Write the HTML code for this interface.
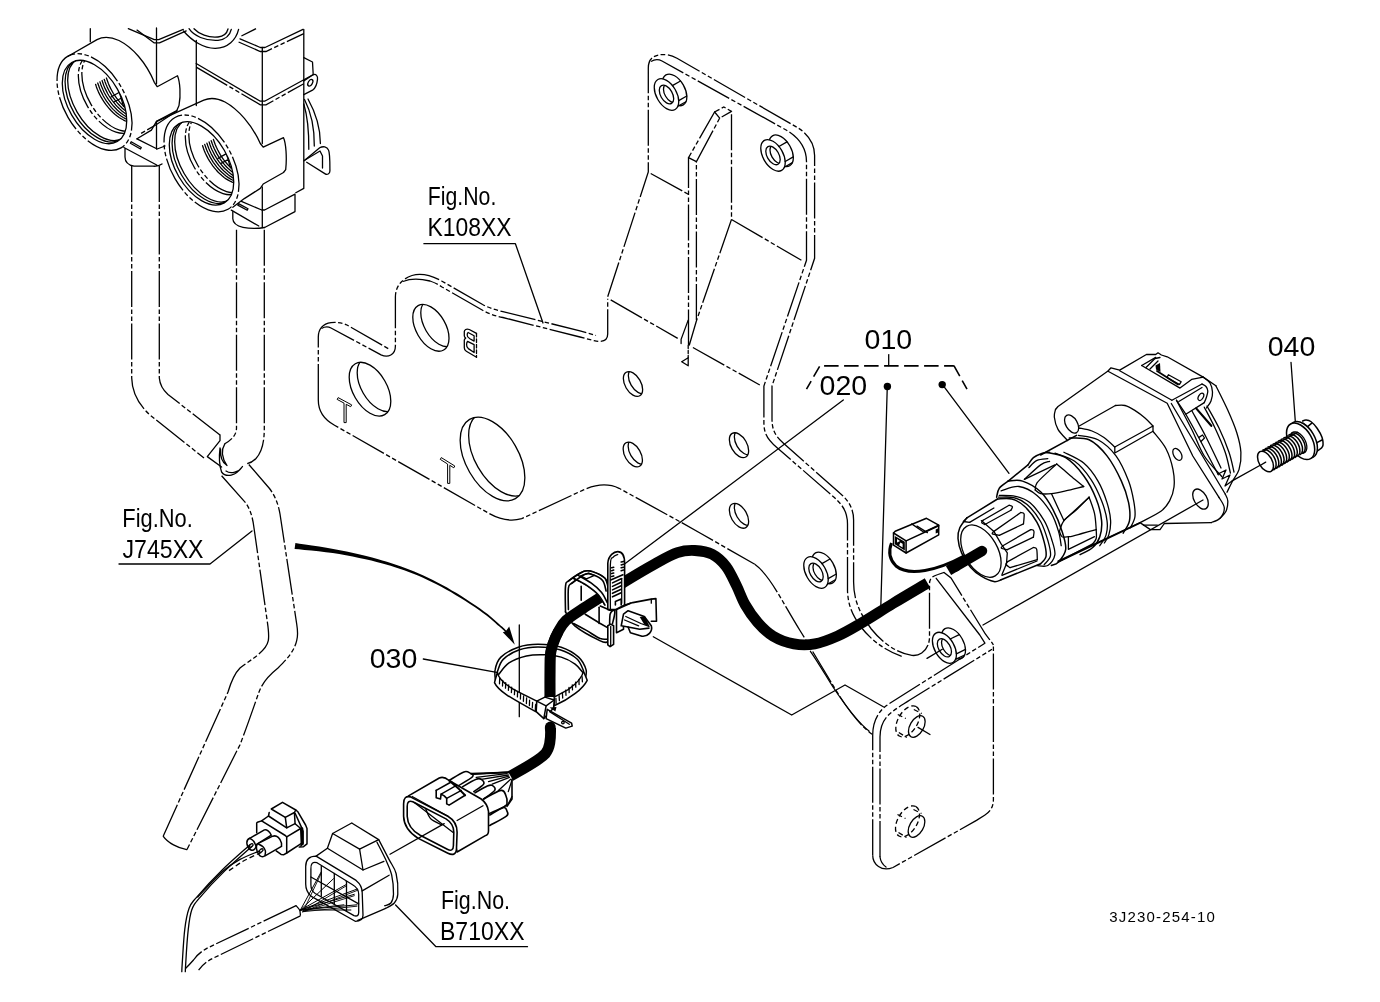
<!DOCTYPE html>
<html><head><meta charset="utf-8">
<style>
html,body{margin:0;padding:0;background:#fff;}
svg{display:block;}
.l{fill:none;stroke:#000;stroke-width:1.3;stroke-linecap:round;stroke-linejoin:round;}
.w{fill:#fff;stroke:#000;stroke-width:1.3;stroke-linejoin:round;}
.wf{fill:#fff;stroke:none;}
.p{fill:none;stroke:#000;stroke-width:1.3;stroke-dasharray:36 2.5 4.5 2.5 4.5 2.5;}
.wp{fill:#fff;stroke:#000;stroke-width:1.3;stroke-dasharray:36 2.5 4.5 2.5 4.5 2.5;}
.h{fill:none;stroke:#000;stroke-width:1.3;stroke-dasharray:5 3;}
.k{fill:none;stroke:#000;stroke-linecap:butt;stroke-linejoin:round;}
text{font-family:"Liberation Sans",sans-serif;fill:#000;}
</style></head><body>
<svg width="1380" height="1002" viewBox="0 0 1380 1002">
<rect width="1380" height="1002" fill="#fff"/>
<g id="bracket"><path class="p" d="M318.3 400V337C318.3 329 323 323.5 331 322.6C338 322 343 323 347 325L389 349" /><path class="p" d="M321.5 328.5C325 326.5 328 326.5 331 328L381 354.8C388 358 395.4 355 395.4 346V297C395.4 286 402 279 412 275.5C420 273 430 274.5 442 281.2L482.6 304.5C490 308.5 496 310 502.9 311.6L580 330.9L596 335.5" /><path class="p" d="M403 281.5C410 278.5 420 278.5 430 281C436 283 438 284.5 442 287L482.6 310.3C490 314.5 496 316 502.9 317.5L580 337L594 340.6C602 342.5 607.7 341 607.7 334V298.8" /><path class="p" d="M318.3 400C318.3 412 324 419.5 334.5 425.2L489.3 513.6C500 519.5 510 522 521.7 518.7L582.6 490.3C596 484 608 483 619.1 488.3L680 521.7L700 533L754.8 564.3" /><path class="p" d="M754.8 564.3C770 575 781 600 800.3 631C812 650 820 664 830.7 681.7C840 697 855 722 872.5 734.5" /><path class="l" d="M810.4 651.3C818 662 826 676 833 687C843 702 856 721 869 731" /><path class="p" d="M607.7 296.8L648.3 171.9V68C648.3 58 655 54 665 54.6C670 55 673 56 677 58.3L796.8 127.2C806 132.5 814.6 142 814.6 155.6V258.3L772 386V418.5C772 430 775 435.5 783.2 443L840 493.3C848 500 853.6 508 853.6 520V582C853.6 600 860 614 871.3 629C880 640 895 653 911.9 655.4C922 656.5 929.5 648 929.5 637V584C929.5 578 933 576 938 574.5" /><path class="p" d="M651 61.5C655 59 658 59 662 61L786.6 130.3C798 137 806.5 148 806.5 161.7V260.3L763.9 386V422.6C763.9 434 768 440 777.1 447.7L831.9 495.4C842 504 847.5 511 847.5 524V590.4C848 606 853 616 861 627C870 639 884 650 901.7 656.4" /><path class="p" d="M650.7 173.5L688.3 194.2"/><path class="p" d="M731.5 219.5L801.4 260.3"/><path class="p" d="M610.7 299.9L677.7 338.4"/><path class="p" d="M692.9 347.5L759.8 385.0"/><path class="p" d="M688.5 345.5V157.7L714.6 112L723.8 107L731.5 111.4V219.5L696.3 321.2L689.2 345.5" /><path class="p" d="M696.4 320V161.7L719.7 118.1L731.5 111.4" /><path class="l" d="M714.6 112L719.7 118.1M688.5 157.7L696.4 161.7M688.2 320.1L681.1 339.4V343.5M681.7 361.7L688.2 357.7V365.8Z" /><path class="l" d="M688.2 345.5V357.7" stroke-dasharray="3 2"/><clipPath id="c1"><ellipse cx="430.9" cy="327.8" rx="25.6" ry="14.8" transform="rotate(60 430.9 327.8)"/></clipPath><ellipse class="l" cx="430.9" cy="327.8" rx="25.6" ry="14.8" transform="rotate(60 430.9 327.8)" /><g clip-path="url(#c1)"><ellipse class="l" cx="438.9" cy="323.3" rx="25.6" ry="14.8" transform="rotate(60 438.9 323.3)" /></g><clipPath id="c2"><ellipse cx="370.0" cy="389.2" rx="29.4" ry="17.0" transform="rotate(60 370.0 389.2)"/></clipPath><ellipse class="l" cx="370.0" cy="389.2" rx="29.4" ry="17.0" transform="rotate(60 370.0 389.2)" /><g clip-path="url(#c2)"><ellipse class="l" cx="378.0" cy="384.7" rx="29.4" ry="17.0" transform="rotate(60 378.0 384.7)" /></g><clipPath id="c3"><ellipse cx="492.5" cy="459.0" rx="45.8" ry="26.4" transform="rotate(60 492.5 459.0)"/></clipPath><ellipse class="l" cx="492.5" cy="459.0" rx="45.8" ry="26.4" transform="rotate(60 492.5 459.0)" /><g clip-path="url(#c3)"><ellipse class="l" cx="501.0" cy="454.2" rx="45.8" ry="26.4" transform="rotate(60 501.0 454.2)" /></g><clipPath id="c4"><ellipse cx="633.0" cy="384.0" rx="13.6" ry="7.9" transform="rotate(60 633.0 384.0)"/></clipPath><ellipse class="l" cx="633.0" cy="384.0" rx="13.6" ry="7.9" transform="rotate(60 633.0 384.0)" /><g clip-path="url(#c4)"><ellipse class="l" cx="638.0" cy="381.2" rx="13.6" ry="7.9" transform="rotate(60 638.0 381.2)" /></g><clipPath id="c5"><ellipse cx="632.8" cy="454.5" rx="13.6" ry="7.9" transform="rotate(60 632.8 454.5)"/></clipPath><ellipse class="l" cx="632.8" cy="454.5" rx="13.6" ry="7.9" transform="rotate(60 632.8 454.5)" /><g clip-path="url(#c5)"><ellipse class="l" cx="637.8" cy="451.7" rx="13.6" ry="7.9" transform="rotate(60 637.8 451.7)" /></g><clipPath id="c6"><ellipse cx="739.0" cy="445.2" rx="13.6" ry="7.9" transform="rotate(60 739.0 445.2)"/></clipPath><ellipse class="l" cx="739.0" cy="445.2" rx="13.6" ry="7.9" transform="rotate(60 739.0 445.2)" /><g clip-path="url(#c6)"><ellipse class="l" cx="744.0" cy="442.4" rx="13.6" ry="7.9" transform="rotate(60 744.0 442.4)" /></g><clipPath id="c7"><ellipse cx="739.0" cy="515.8" rx="13.6" ry="7.9" transform="rotate(60 739.0 515.8)"/></clipPath><ellipse class="l" cx="739.0" cy="515.8" rx="13.6" ry="7.9" transform="rotate(60 739.0 515.8)" /><g clip-path="url(#c7)"><ellipse class="l" cx="744.0" cy="513.0" rx="13.6" ry="7.9" transform="rotate(60 744.0 513.0)" /></g><path class="l" d="M338.5 397.8L351.7 404.9L350.7 406.7L346.2 404.3V422.6H344V403.1L337.5 399.6Z" style="stroke-width:1"/><path class="l" d="M441.6 457.8L454.8 466L453.8 467.8L449.8 465.3V483.4H447.6V464L440.6 459.6Z" style="stroke-width:1"/><path class="l" d="M476.5 333.4L469.3 329.5C468 329 466.5 329 465.7 329.5C464.5 330.3 464.3 331 464.3 331.6V335.7C464.3 337 465 337.6 465.7 338.1C465 338.6 464.3 339.2 464.3 339.9V347.7C464.3 349.5 465 350.5 466.3 351.3L476.5 357.3" /><path class="l" d="M476.5 333.4V357.3" stroke-dasharray="3.5 2"/><path class="l" d="M468.1 332.5L474.1 335.7V341.1L469.9 338.7C468 337.5 467 336.5 467.2 335.1C467.2 333.5 467.5 332.8 468.1 332.5Z" /><path class="l" d="M467.5 341.4L474.1 344.7V352.5L468.7 348.9C467 347.5 466.4 346 466.6 344.7C466.6 343 467 342 467.5 341.4Z" /><ellipse class="l" cx="674.6" cy="89.9" rx="17.3" ry="10.0" transform="rotate(60 674.6 89.9)" /><ellipse class="w" cx="666.5" cy="94.5" rx="17.3" ry="10.0" transform="rotate(60 666.5 94.5)" /><path class="l" d="M672.4 85.6L680.5 81.0"/><path class="l" d="M678.7 100.6L686.8 96.0"/><path class="l" d="M677.8 106.3L685.9 101.7"/><clipPath id="c8"><ellipse cx="666.5" cy="94.5" rx="10.2" ry="5.9" transform="rotate(60 666.5 94.5)"/></clipPath><ellipse class="l" cx="666.5" cy="94.5" rx="10.2" ry="5.9" transform="rotate(60 666.5 94.5)" /><g clip-path="url(#c8)"><ellipse class="l" cx="670.7" cy="93.3" rx="10.2" ry="5.9" transform="rotate(60 670.7 93.3)" /></g><ellipse class="l" cx="781.1" cy="150.8" rx="17.3" ry="10.0" transform="rotate(60 781.1 150.8)" /><ellipse class="w" cx="773.0" cy="155.4" rx="17.3" ry="10.0" transform="rotate(60 773.0 155.4)" /><path class="l" d="M778.9 146.5L787.0 141.9"/><path class="l" d="M785.2 161.5L793.3 156.9"/><path class="l" d="M784.3 167.2L792.4 162.6"/><clipPath id="c9"><ellipse cx="773.0" cy="155.4" rx="10.2" ry="5.9" transform="rotate(60 773.0 155.4)"/></clipPath><ellipse class="l" cx="773.0" cy="155.4" rx="10.2" ry="5.9" transform="rotate(60 773.0 155.4)" /><g clip-path="url(#c9)"><ellipse class="l" cx="777.2" cy="154.2" rx="10.2" ry="5.9" transform="rotate(60 777.2 154.2)" /></g><ellipse class="l" cx="824.1" cy="567.9" rx="17.3" ry="10.0" transform="rotate(60 824.1 567.9)" /><ellipse class="w" cx="816.0" cy="572.5" rx="17.3" ry="10.0" transform="rotate(60 816.0 572.5)" /><path class="l" d="M821.9 563.6L830.0 559.0"/><path class="l" d="M828.2 578.6L836.3 574.0"/><path class="l" d="M827.3 584.3L835.4 579.7"/><clipPath id="c10"><ellipse cx="816.0" cy="572.5" rx="10.2" ry="5.9" transform="rotate(60 816.0 572.5)"/></clipPath><ellipse class="l" cx="816.0" cy="572.5" rx="10.2" ry="5.9" transform="rotate(60 816.0 572.5)" /><g clip-path="url(#c10)"><ellipse class="l" cx="820.2" cy="571.3" rx="10.2" ry="5.9" transform="rotate(60 820.2 571.3)" /></g></g>
<g id="lower"><path class="p" d="M872.7 855.2V735C872.7 722 878 711 888 704.5L984.9 643.2" /><path class="p" d="M880 857V737C880 726 884 718 892 712C897 708 903 704.5 909.8 700L992 649.3" /><path class="p" d="M872.7 855.2C872.7 860 875 864 878.5 866.5C882 869 888 869.5 893 867.5L976.5 820.4L985 815C990 812 993.4 807 993.4 799.6V645" /><path class="l" d="M880 857C880.5 861 882.5 864.5 886 867" /><path class="l" d="M936.2 578.3L979.8 635L984.9 643.2" /><path class="p" d="M938 574.5L944 572.5L951 578L982.9 630C986 636 990 639 993.4 645" /><ellipse class="l" cx="953.5" cy="643.4" rx="17.0" ry="9.8" transform="rotate(60 953.5 643.4)" /><ellipse class="w" cx="944.4" cy="647.8" rx="17.0" ry="9.8" transform="rotate(60 944.4 647.8)" /><path class="l" d="M950.2 639.0L959.3 634.6"/><path class="l" d="M956.4 653.8L965.5 649.4"/><path class="l" d="M955.5 659.4L964.6 655.0"/><clipPath id="c11"><ellipse cx="944.4" cy="647.8" rx="10.0" ry="5.8" transform="rotate(60 944.4 647.8)"/></clipPath><ellipse class="l" cx="944.4" cy="647.8" rx="10.0" ry="5.8" transform="rotate(60 944.4 647.8)" /><g clip-path="url(#c11)"><ellipse class="l" cx="948.6" cy="646.6" rx="10.0" ry="5.8" transform="rotate(60 948.6 646.6)" /></g><path class="l" d="M927.0 658.4L942.3 649.3"/><ellipse class="l" cx="916.8" cy="726.5" rx="11.8" ry="6.8" transform="rotate(-60 916.8 726.5)" /><ellipse class="h" cx="907.8" cy="721.3" rx="17.0" ry="9.8" transform="rotate(-60 907.8 721.3)" /><path class="h" d="M913.8 709.5L921.8 713.5M898.8 732.5L906.8 737.5M897.8 714.5L905.8 718.5" /><ellipse class="l" cx="916.5" cy="826.5" rx="11.8" ry="6.8" transform="rotate(-60 916.5 826.5)" /><ellipse class="h" cx="907.5" cy="821.3" rx="17.0" ry="9.8" transform="rotate(-60 907.5 821.3)" /><path class="h" d="M913.5 809.5L921.5 813.5M898.5 832.5L906.5 837.5M897.5 814.5L905.5 818.5" /><path class="l" d="M918.0 727.4L930.0 734.5"/><path class="l" d="M653.3 636.7L791.7 715L845 685L883.3 706.7" /><path class="l" d="M1203 500L983 625" /><path class="l" d="M1262 464.3L1232.2 480.9" /></g><g id="lead2"><path class="l" d="M888.7 354.6V365.7" /><path class="l" d="M824.1 365.9H953.9" stroke-dasharray="14.5 5.5" style="stroke-linecap:butt;stroke-width:1.6"/><path class="l" d="M819.6 366.3L806.5 389.1M953.9 365.7L967 389.1" stroke-dasharray="12 5" style="stroke-linecap:butt;stroke-width:1.6"/><circle cx="887.4" cy="386.5" r="3.7"/><circle cx="942.2" cy="384.6" r="3.7"/><path class="l" d="M887.3 386.0L880.8 607.0"/><path class="l" d="M942.3 384.3L1009.0 473.3"/><path class="l" d="M843.3 400.0L624.2 564.3"/><path class="l" d="M423.3 659.0L496.7 672.3"/><path class="l" d="M1291.0 362.3L1295.4 422.6"/><path class="l" d="M519.3 625.0L519.3 716.7"/><path fill="#000" stroke="none" d="M295.4 543.0L299.5 543.7L305.1 544.5L311.9 545.5L319.2 546.5L326.5 547.7L333.3 548.9L339.9 550.2L346.6 551.6L353.3 553.1L359.9 554.6L366.2 556.1L372.1 557.6L377.4 559.0L382.3 560.4L386.9 561.8L391.4 563.2L395.9 564.7L400.4 566.3L405.1 568.0L409.7 569.8L414.2 571.6L418.8 573.5L423.4 575.5L428.1 577.7L432.8 580.0L437.5 582.4L442.3 585.0L447.1 587.6L451.8 590.4L456.5 593.1L461.3 596.1L466.2 599.2L471.0 602.4L475.7 605.6L480.1 608.6L484.0 611.5L487.6 614.1L490.8 616.7L493.7 619.2L496.2 621.5L498.5 623.6L500.6 625.4L502.3 626.8L503.6 628.1L504.7 629.1L505.5 629.9L506.2 630.5L506.7 631.0L505.7 632.2L505.1 631.7L504.4 631.0L503.6 630.3L502.5 629.3L501.1 628.1L499.4 626.6L497.4 624.9L495.1 622.8L492.5 620.5L489.6 618.1L486.5 615.6L483.0 612.9L479.0 610.1L474.7 607.1L470.0 604.0L465.1 600.8L460.2 597.8L455.5 594.9L450.8 592.1L446.1 589.4L441.3 586.8L436.5 584.3L431.8 581.9L427.1 579.7L422.5 577.6L417.9 575.6L413.4 573.8L408.8 572.0L404.2 570.3L399.6 568.7L395.0 567.2L390.6 565.8L386.1 564.4L381.5 563.2L376.6 561.9L371.3 560.6L365.5 559.3L359.2 558.0L352.6 556.6L345.9 555.3L339.2 554.1L332.7 553.1L325.9 552.2L318.6 551.3L311.3 550.5L304.5 549.9L298.8 549.3L294.6 549.0Z"/><path fill="#000" stroke="none" d="M514.8 644.7L502.8 632.2L505.8 631.2L509.2 626.4Z"/></g>
<g id="valve"><path class="l" d="M90.3 28.7V41.7M156.5 28V83.8M156.5 121.4V149M196.3 40.3V105.5M262.3 47.5V143.5M262.3 187V227.5M303.8 29.4V188.4L295.8 192.8" /><path class="l" d="M128.3 28.7L154.3 39.6H158.7L183.3 29.4" /><path class="l" d="M137 30.1L154.3 42.9H159.5L186.2 30.9" /><path class="l" d="M189 28.7C194 36 205 41 218 40.3C226 39.5 230 35 231.3 29.4" /><path class="l" d="M183.5 31C192 41 204 48.5 215.4 48.3C228 48 236 40 238.6 29.4" /><path class="l" d="M194 28.7C199 34 208 38 218 37C224 36.3 227 33 228 29" /><path class="l" d="M240 38.8L260.3 47.5H265L303 29.4" /><path class="p" d="M238.6 42L260.3 51.5H266L303.8 33.6" /><path class="p" d="M241.4 36L256 28.7" /><path class="l" d="M196.2 63.5L260.3 101.2H264.6L312.5 75" /><path class="p" d="M196.2 67.1L260.3 104.8H266L303.8 83.8" /><path class="l" d="M303.8 57.7L312.5 62L313.2 74.5" /><path class="l" d="M303.8 80.9L313 74.8C316 73.5 318 76 317.5 79.4C317 84 316 87.5 313 89.8L303.8 94.6" /><ellipse class="l" cx="310.3" cy="82.8" rx="3.6" ry="2.1" transform="rotate(-60 310.3 82.8)" /><path class="l" d="M308 99C313 108 320.4 124 320.4 143.5" /><path class="l" d="M303.8 104C308 118 309 130 308.8 149.3" /><path class="l" d="M304.5 99.5C311 112 314.5 126 314.3 146" /><path class="l" d="M303.8 160.9L319.7 147.8C323 146 327 146.5 328.5 150C330 153 329.9 158 329.9 171C329.9 174 327 175 325.2 173.9L306.7 162.3" /><path class="l" d="M305 160L320 151L322.5 156V168" /><path class="l" d="M68.1 56.3L97 39.6C103 36.5 110 36.5 119 40.5C132 47 146 62 154.3 82.3L157.2 86.7L177.5 75.8C180 82 181 95 179 105.5L176.8 110.6L156.5 121.4L151.4 130.1L137 138.8" /><path class="l" d="M123.9 147.5L156.7 165M125 149V157C125 162 128 165 134 166.2H153C157 166.5 160 165.5 162 164M137 138.8L157.2 149L165 146" /><path class="l" d="M131.2 141.7L141.3 147.5L140.5 149L130.4 143.2Z" /><path class="l" d="M156.7 121.4L203.8 100.2C210 97.5 217 98 225 102C238 109 252 125 260.3 143.5L263.2 147.1L283.5 137.7C286 143 287 158 285.7 169.6L283.5 172.5L263.2 184L260.3 188.4L244.3 198.6L232.8 207.2" /><path class="p" d="M177.5 110.5L156.5 124.5L140 134" /><path class="l" d="M241.4 201.4L261.7 210H264.6L295 194.2V211.6L264.6 227.5" /><path class="l" d="M232.8 211.6V218.8C233 223 237 226 243 227.3C250 228.8 258 228.6 264.6 227.5" /><path class="l" d="M231.3 210.1L258.8 226" /><path class="l" d="M238.6 203.6L248 208.7L247.2 210.2L237.8 205.1Z" /><clipPath id="pc1"><ellipse cx="94.5" cy="102" rx="45.6" ry="26.33" transform="rotate(60 94.5 102)"/></clipPath><ellipse class="p" cx="94.5" cy="102.0" rx="53.0" ry="30.6" transform="rotate(60 94.5 102.0)" /><ellipse class="l" cx="94.5" cy="102.0" rx="45.6" ry="26.3" transform="rotate(60 94.5 102.0)" /><g clip-path="url(#pc1)"><ellipse class="l" cx="97.3" cy="100.4" rx="45.6" ry="26.3" transform="rotate(60 97.3 100.4)" /><ellipse class="l" cx="99.9" cy="98.9" rx="45.6" ry="26.3" transform="rotate(60 99.9 98.9)" /><ellipse class="p" cx="109.2" cy="93.5" rx="43.6" ry="25.2" transform="rotate(60 109.2 93.5)" /><ellipse class="p" cx="112.7" cy="91.5" rx="43.6" ry="25.2" transform="rotate(60 112.7 91.5)" /><path class="l" d="M136.6 122.4L134.9 122.6L133.0 122.6L131.2 122.4L129.2 122.1L127.2 121.5L125.2 120.8L123.2 119.8L121.2 118.7L119.1 117.5L117.1 116.0L115.1 114.4L113.2 112.7L111.2 110.8L109.4 108.8L107.6 106.7L105.8 104.4L104.2 102.1L102.6 99.7L101.1 97.2L99.8 94.7L98.5 92.1L97.4 89.5L96.4 86.9L95.6 84.3" /><path class="l" d="M138.8 121.2L137.0 121.4L135.2 121.4L133.3 121.2L131.4 120.8L129.4 120.3L127.4 119.5L125.4 118.6L123.3 117.5L121.3 116.2L119.3 114.8L117.3 113.2L115.3 111.4L113.4 109.6L111.5 107.6L109.7 105.4L108.0 103.2L106.3 100.9L104.8 98.5L103.3 96.0L102.0 93.4L100.7 90.9L99.6 88.3L98.6 85.6L97.7 83.0" /><path class="l" d="M140.9 119.9L139.2 120.1L137.4 120.1L135.5 119.9L133.6 119.6L131.6 119.0L129.6 118.3L127.5 117.3L125.5 116.2L123.5 115.0L121.5 113.5L119.5 111.9L117.5 110.2L115.6 108.3L113.7 106.3L111.9 104.2L110.2 101.9L108.5 99.6L106.9 97.2L105.5 94.7L104.1 92.2L102.9 89.6L101.8 87.0L100.8 84.4L99.9 81.8" /><path class="l" d="M143.1 118.7L141.3 118.9L139.5 118.9L137.6 118.7L135.7 118.3L133.7 117.8L131.7 117.0L129.7 116.1L127.7 115.0L125.6 113.7L123.6 112.3L121.6 110.7L119.7 108.9L117.7 107.1L115.9 105.1L114.1 102.9L112.3 100.7L110.7 98.4L109.1 96.0L107.6 93.5L106.3 90.9L105.0 88.4L103.9 85.8L102.9 83.1L102.1 80.5" /><path class="l" d="M145.3 117.4L143.5 117.6L141.7 117.6L139.8 117.4L137.9 117.1L135.9 116.5L133.9 115.8L131.9 114.8L129.8 113.7L127.8 112.5L125.8 111.0L123.8 109.4L121.8 107.7L119.9 105.8L118.0 103.8L116.2 101.7L114.5 99.4L112.8 97.1L111.3 94.7L109.8 92.2L108.5 89.7L107.2 87.1L106.1 84.5L105.1 81.9L104.2 79.3" /><path class="l" d="M147.4 116.2L145.7 116.4L143.9 116.4L142.0 116.2L140.0 115.8L138.1 115.3L136.1 114.5L134.0 113.6L132.0 112.5L130.0 111.2L128.0 109.8L126.0 108.2L124.0 106.4L122.1 104.6L120.2 102.6L118.4 100.4L116.6 98.2L115.0 95.9L113.4 93.5L112.0 91.0L110.6 88.4L109.4 85.9L108.3 83.3L107.3 80.6L106.4 78.0" /><path class="l" d="M111.0 97.0l8 -4.5M114.0 102.0l8.5 -4.5M119.5 92.5l4 14" /></g><clipPath id="pc2"><ellipse cx="201.5" cy="163.4" rx="45.6" ry="26.33" transform="rotate(60 201.5 163.4)"/></clipPath><ellipse class="p" cx="201.5" cy="163.4" rx="53.0" ry="30.6" transform="rotate(60 201.5 163.4)" /><ellipse class="l" cx="201.5" cy="163.4" rx="45.6" ry="26.3" transform="rotate(60 201.5 163.4)" /><g clip-path="url(#pc2)"><ellipse class="l" cx="204.3" cy="161.8" rx="45.6" ry="26.3" transform="rotate(60 204.3 161.8)" /><ellipse class="l" cx="206.9" cy="160.3" rx="45.6" ry="26.3" transform="rotate(60 206.9 160.3)" /><ellipse class="p" cx="216.2" cy="154.9" rx="43.6" ry="25.2" transform="rotate(60 216.2 154.9)" /><ellipse class="p" cx="219.7" cy="152.9" rx="43.6" ry="25.2" transform="rotate(60 219.7 152.9)" /><path class="l" d="M243.6 183.8L241.9 184.0L240.0 184.0L238.2 183.8L236.2 183.5L234.2 182.9L232.2 182.2L230.2 181.2L228.2 180.1L226.1 178.9L224.1 177.4L222.1 175.8L220.2 174.1L218.2 172.2L216.4 170.2L214.6 168.1L212.8 165.8L211.2 163.5L209.6 161.1L208.1 158.6L206.8 156.1L205.5 153.5L204.4 150.9L203.4 148.3L202.6 145.7" /><path class="l" d="M245.8 182.6L244.0 182.8L242.2 182.8L240.3 182.6L238.4 182.2L236.4 181.7L234.4 180.9L232.4 180.0L230.3 178.9L228.3 177.6L226.3 176.2L224.3 174.6L222.3 172.8L220.4 171.0L218.5 169.0L216.7 166.8L215.0 164.6L213.3 162.3L211.8 159.9L210.3 157.4L209.0 154.8L207.7 152.3L206.6 149.7L205.6 147.0L204.7 144.4" /><path class="l" d="M247.9 181.3L246.2 181.5L244.4 181.5L242.5 181.3L240.6 181.0L238.6 180.4L236.6 179.7L234.5 178.7L232.5 177.6L230.5 176.4L228.5 174.9L226.5 173.3L224.5 171.6L222.6 169.7L220.7 167.7L218.9 165.6L217.2 163.3L215.5 161.0L213.9 158.6L212.5 156.1L211.1 153.6L209.9 151.0L208.8 148.4L207.8 145.8L206.9 143.2" /><path class="l" d="M250.1 180.1L248.3 180.3L246.5 180.3L244.6 180.1L242.7 179.7L240.7 179.2L238.7 178.4L236.7 177.5L234.7 176.4L232.6 175.1L230.6 173.7L228.6 172.1L226.7 170.3L224.7 168.5L222.9 166.5L221.1 164.3L219.3 162.1L217.7 159.8L216.1 157.4L214.6 154.9L213.3 152.3L212.0 149.8L210.9 147.2L209.9 144.5L209.1 141.9" /><path class="l" d="M252.3 178.8L250.5 179.0L248.7 179.0L246.8 178.8L244.9 178.5L242.9 177.9L240.9 177.2L238.9 176.2L236.8 175.1L234.8 173.9L232.8 172.4L230.8 170.8L228.8 169.1L226.9 167.2L225.0 165.2L223.2 163.1L221.5 160.8L219.8 158.5L218.3 156.1L216.8 153.6L215.5 151.1L214.2 148.5L213.1 145.9L212.1 143.3L211.2 140.7" /><path class="l" d="M254.4 177.6L252.7 177.8L250.9 177.8L249.0 177.6L247.0 177.2L245.1 176.7L243.1 175.9L241.0 175.0L239.0 173.9L237.0 172.6L235.0 171.2L233.0 169.6L231.0 167.8L229.1 166.0L227.2 164.0L225.4 161.8L223.6 159.6L222.0 157.3L220.4 154.9L219.0 152.4L217.6 149.8L216.4 147.3L215.3 144.7L214.3 142.0L213.4 139.4" /><path class="l" d="M218.0 158.4l8 -4.5M221.0 163.4l8.5 -4.5M226.5 153.9l4 14" /></g></g><g id="pipes"><path class="p" d="M131.7 166V378C132 392 138 404 150 415L204 458" /><path class="p" d="M159.3 166V378C160 386 163 390 168 394.5L220 435" /><path class="l" d="M220 435V440.6L207.3 456.6L221.6 467" /><path class="p" d="M236.5 229.7V428C236.5 434 233 439 224.8 443.8" /><path class="p" d="M264.3 229.7V428C264.3 442 262 452 256 458.5C253 461.5 250 463 247.2 463.7" /><path class="l" d="M224.8 443.8C221 450 222 458 227 465.5C223 463 220 457 220.5 449M220 448C219 456 219.5 466 221.6 472C226 478 236 476 242.5 466.5C239 472 231 474.5 226 471" /><path class="p" d="M221.6 475.7L245.6 502.8C250 509 252.5 516 254 528L266.7 617.3C268 627 269.5 634 268.3 640.7C266 652 250 660 240 668C234 674 231 682 228 692L163.3 836" /><path class="p" d="M248.8 464.5L269.5 488.5C275 496 278 503 280 514L296.7 624C298 632 298 636 296.7 640.7C294 652 286 660 278 668C268 676 263 682 259 692C254 706 248 724 240 744.7L187 849.5" /><path class="l" d="M163.3 836.3C168 843 178 848 186.7 849.7" /></g>
<g id="conn"><path class="l" d="M1067.6 440.6C1066.0 438.7 1060.2 433.3 1058.0 429.4C1055.8 425.5 1054.7 420.3 1054.3 417.0C1053.9 413.7 1055.3 410.8 1055.5 409.5" /><path class="l" d="M1055.5 409.5L1058.0 406.5L1108.0 371.0L1111.0 367.8L1119.7 370.1L1146.4 354.5L1155.7 354.5L1158.0 352.8L1161.4 355.0L1167.2 356.8L1203.2 377.1L1215.9 385.8" style="stroke-width:1.3"/><path class="l" d="M1215.9 385.8C1217.8 389.8 1224.0 401.8 1227.5 409.6C1231.0 417.4 1234.6 425.7 1236.8 432.8C1239.0 439.9 1240.5 446.1 1240.9 452.2C1241.3 458.3 1240.5 464.7 1239.0 469.6C1237.5 474.5 1234.2 477.9 1232.2 481.7C1230.2 485.5 1227.9 490.4 1227.0 492.2" style="stroke-width:1.3"/><path class="l" d="M1108.0 371.3L1167.2 403.2L1192.8 456.0L1219.0 497.4" /><path class="l" d="M1119.7 370.7L1171.9 400.3" /><path class="l" d="M1171.3 403.5L1225.2 494.0" /><path class="l" d="M1219.0 497.4C1219.9 499.1 1224.1 504.3 1224.3 507.8C1224.5 511.3 1222.2 515.8 1220.0 518.3C1217.8 520.8 1212.8 521.9 1211.3 522.6" /><path class="l" d="M1225.2 494.0C1225.6 495.1 1227.7 498.0 1227.8 500.9C1227.9 503.8 1227.3 508.4 1226.0 511.3C1224.7 514.2 1221.0 517.1 1220.0 518.3" /><path class="l" d="M1211.3 522.6L1164.3 523.5" /><ellipse class="l" cx="1071.6" cy="424.0" rx="10.0" ry="5.8" transform="rotate(60 1071.6 424.0)" /><ellipse class="l" cx="1200.5" cy="499.1" rx="11.0" ry="6.4" transform="rotate(60 1200.5 499.1)" /><ellipse class="l" cx="1177.4" cy="454.4" rx="6.5" ry="3.8" transform="rotate(60 1177.4 454.4)" /><path class="l" d="M1141.7 365.5L1155.7 357.4" /><path class="l" d="M1141.7 365.5L1180.0 388.1L1191.6 379.4L1203.2 377.1" style="stroke-width:1.3"/><path class="l" d="M1146.0 367.5L1155.0 358.5L1160.0 357.5" /><path class="l" d="M1150.0 369.0L1158.0 361.0" /><path d="M1155.5 365.5l4.5 -2.5l0.5 9l-4.5 -2.5z" fill="#000"/><path class="l" d="M1157.0 371.0L1178.0 384.5" style="stroke-width:1.8"/><path class="l" d="M1168.4 374.8L1181.2 381.7L1179.5 384.5L1167.0 377.5Z" /><path class="l" d="M1202.0 384.0C1202.7 384.4 1205.0 385.3 1206.0 386.5C1207.0 387.7 1207.7 389.2 1207.8 391.0C1207.9 392.8 1207.1 395.1 1206.5 397.0C1205.9 398.9 1204.7 401.7 1204.3 402.6" style="stroke-width:1.3"/><path class="l" d="M1171.9 400.3L1202.0 384.0" /><path class="l" d="M1178.8 401.5L1202.0 387.5" /><path class="l" d="M1204.3 402.6L1185.8 414.2L1176.5 400.3" style="stroke-width:1.3"/><ellipse class="l" cx="1200.9" cy="396.8" rx="4.0" ry="2.3" transform="rotate(-60 1200.9 396.8)" /><path class="l" d="M1203.2 377.1C1204.3 378.1 1208.5 380.5 1210.0 383.0C1211.5 385.5 1212.3 389.0 1212.5 392.0C1212.7 395.0 1212.0 398.3 1211.0 401.0C1210.0 403.7 1207.2 406.8 1206.5 408.0" /><path class="l" d="M1196.2 408.4L1211.3 425.8" style="stroke-width:2.2"/><path class="l" d="M1204.3 407.2C1206.1 410.7 1211.5 420.5 1215.0 428.0C1218.5 435.5 1222.6 444.7 1225.2 452.2C1227.8 459.7 1229.5 469.5 1230.4 473.0" /><path class="l" d="M1207.0 406.0C1209.0 409.7 1215.3 420.3 1219.0 428.0C1222.7 435.7 1226.5 444.9 1229.0 452.2C1231.5 459.5 1233.2 468.7 1234.0 472.0" /><path class="l" d="M1185.8 414.2C1188.2 418.5 1194.6 429.9 1200.0 440.0C1205.4 450.1 1215.2 469.0 1218.3 474.8" /><path class="l" d="M1192.0 411.0C1194.3 415.3 1201.2 427.5 1206.0 437.0C1210.8 446.5 1218.5 462.8 1221.0 468.0" /><path class="l" d="M1199.0 437.4L1202.5 435.0L1204.5 438.0L1201.0 441.5" /><path class="l" d="M1218.0 474.0L1226.0 470.0L1222.0 479.0L1230.0 475.0L1225.0 486.0L1232.0 481.0" /><path class="l" d="M1176.5 400.3C1179.1 405.2 1187.4 420.7 1192.0 430.0C1196.6 439.3 1199.3 448.2 1204.3 456.0C1209.2 463.8 1218.8 473.1 1221.7 476.5" /><path class="l" d="M1078.8 426.3L1115.4 405.5" style="stroke-width:1.3"/><path class="l" d="M1115.4 405.5C1117.0 405.5 1121.8 404.7 1125.0 405.5C1128.2 406.3 1131.5 408.3 1134.8 410.4C1138.1 412.5 1142.0 415.4 1145.0 418.0C1148.0 420.6 1151.7 424.7 1153.0 426.0" /><path class="l" d="M1114.8 447.0L1153.0 426.0L1153.0 431.3L1114.8 453.0L1114.8 447.0" /><path class="l" d="M1078.8 428.0C1081.0 428.5 1087.8 429.4 1092.0 431.0C1096.2 432.6 1100.2 434.8 1104.0 437.5C1107.8 440.2 1113.0 445.4 1114.8 447.0" /><path class="l" d="M1153.0 431.3C1155.2 434.2 1162.7 442.3 1166.0 448.7C1169.3 455.1 1171.7 463.2 1173.0 469.6C1174.3 476.0 1174.6 481.8 1174.0 487.0C1173.4 492.2 1171.8 496.8 1169.6 500.9C1167.4 504.9 1165.8 507.7 1160.9 511.3C1156.0 514.9 1143.5 520.7 1140.0 522.6" /><path class="l" d="M1140.0 522.6L1058.0 561.2" style="stroke-width:1.3"/><path class="l" d="M1140.0 522.6L1150.4 529.6L1160.0 529.6L1164.3 523.5" /><path class="l" d="M1143.5 525.2L1157.4 525.2" /><path class="l" d="M1040.6 455.0L1076.5 435.3" style="stroke-width:1.5"/><path class="l" d="M1069.3 438.0C1072.6 438.3 1082.8 436.8 1089.1 439.8C1095.4 442.7 1101.6 449.0 1107.0 455.9C1112.4 462.8 1117.8 473.3 1121.4 481.1C1125.0 488.8 1127.2 496.0 1128.6 502.6C1129.9 509.2 1130.4 515.5 1129.5 520.6C1128.6 525.7 1124.2 531.1 1123.2 533.1" style="stroke-width:1.5"/><path class="l" d="M1078.3 435.3C1081.6 436.0 1091.8 436.3 1098.0 439.8C1104.3 443.2 1110.9 449.0 1116.0 455.9C1121.1 462.8 1125.6 473.3 1128.6 481.1C1131.6 488.8 1132.9 496.6 1134.0 502.6C1135.0 508.6 1135.5 512.8 1134.9 517.0C1134.3 521.2 1131.1 526.0 1130.4 527.8" /><path class="l" d="M1046.0 452.3C1049.3 453.2 1059.4 453.8 1065.7 457.7C1072.0 461.6 1078.6 468.8 1083.7 475.7C1088.8 482.6 1093.3 491.5 1096.2 499.0C1099.2 506.5 1101.0 514.3 1101.6 520.6C1102.2 526.9 1101.3 532.2 1099.8 536.7C1098.3 541.2 1096.0 544.5 1092.7 547.5C1089.4 550.5 1082.2 553.5 1080.1 554.7" style="stroke-width:1.5"/><path class="l" d="M1054.9 453.2C1058.2 454.6 1068.7 457.0 1074.7 461.3C1080.7 465.6 1086.4 472.7 1090.9 479.3C1095.4 485.9 1098.9 493.9 1101.6 500.8C1104.3 507.7 1106.3 514.9 1107.0 520.6C1107.8 526.3 1107.3 530.8 1106.1 534.9C1104.9 539.1 1100.9 543.9 1099.8 545.7" /><path class="l" d="M1063.9 452.3C1067.2 454.1 1078.0 458.3 1083.7 463.1C1089.4 467.9 1094.2 474.5 1098.0 481.1C1101.9 487.6 1104.9 496.0 1107.0 502.6C1109.1 509.2 1110.3 515.2 1110.6 520.6C1110.9 526.0 1109.9 531.2 1108.8 534.9C1107.8 538.7 1105.1 541.7 1104.3 543.0" /><path class="l" d="M1139.4 523.3L1058.5 561.9" style="stroke-width:1.5"/><path class="l" d="M996.6 497.2C997.0 495.7 997.3 490.9 999.3 488.2C1001.2 485.6 1006.8 482.3 1008.2 481.1" style="stroke-width:1.5"/><path class="l" d="M1008.2 481.1L1028.0 464.9" style="stroke-width:1.5"/><path class="l" d="M1028.0 464.9C1028.9 463.7 1031.0 459.7 1033.4 457.7C1035.8 455.8 1039.7 454.1 1042.4 453.2C1045.1 452.3 1048.4 452.5 1049.6 452.3" style="stroke-width:1.5"/><path class="l" d="M1024.4 479.3C1027.1 476.9 1036.4 467.9 1040.6 464.9C1044.8 461.9 1048.1 461.9 1049.6 461.3" /><path class="l" d="M1028.9 467.6C1030.2 466.4 1033.8 461.9 1037.0 460.4C1040.1 458.9 1046.0 458.9 1047.8 458.6" /><path class="l" d="M1008.2 481.1C1010.6 481.1 1017.2 479.3 1022.6 481.1C1028.0 482.9 1035.5 487.0 1040.6 491.8C1045.7 496.6 1049.6 503.2 1053.1 509.8C1056.7 516.4 1060.0 524.8 1062.1 531.4C1064.2 537.9 1066.3 544.2 1065.7 549.3C1065.1 554.4 1060.9 559.2 1058.5 561.9C1056.1 564.6 1052.5 564.9 1051.4 565.5" style="stroke-width:1.5"/><path class="l" d="M1001.1 490.9C1004.1 490.2 1013.0 485.7 1019.0 486.5C1025.0 487.2 1031.6 490.9 1037.0 495.4C1042.4 499.9 1047.8 507.4 1051.4 513.4C1054.9 519.4 1056.9 526.0 1058.5 531.4C1060.2 536.7 1060.8 543.3 1061.2 545.7" /><path class="l" d="M997.5 499.0C999.9 499.0 1007.3 497.8 1011.8 499.0C1016.3 500.2 1020.2 502.3 1024.4 506.2C1028.6 510.1 1033.7 516.4 1037.0 522.4C1040.3 528.4 1042.7 536.4 1044.2 542.1C1045.7 547.8 1046.6 552.9 1046.0 556.5C1045.4 560.1 1041.5 562.5 1040.6 563.7" style="stroke-width:1.5"/><path class="l" d="M999.3 495.4C1002.0 495.6 1010.3 495.1 1015.4 496.3C1020.5 497.5 1025.0 498.6 1029.8 502.6C1034.6 506.7 1040.6 514.6 1044.2 520.6C1047.8 526.6 1049.6 532.8 1051.4 538.5C1053.1 544.2 1055.5 550.2 1054.9 554.7C1054.3 559.2 1050.8 563.7 1047.8 565.5C1044.8 567.3 1038.8 565.5 1037.0 565.5" /><path class="l" d="M998.4 497.2C1000.9 497.3 1008.8 496.4 1013.6 497.6C1018.4 498.8 1022.6 500.4 1027.1 504.4C1031.6 508.4 1037.1 515.5 1040.6 521.5C1044.0 527.5 1046.1 534.6 1047.8 540.3C1049.4 546.0 1051.1 551.6 1050.5 555.6C1049.9 559.6 1045.2 563.1 1044.2 564.6" /><path class="l" d="M1035.2 490.0C1035.5 488.8 1034.9 485.9 1037.0 482.9C1039.1 479.9 1044.5 475.2 1047.8 472.1C1051.1 468.9 1055.2 465.3 1056.7 464.0" /><path class="l" d="M1056.7 464.0C1057.6 464.7 1059.1 465.9 1062.1 468.5C1065.1 471.0 1071.1 476.3 1074.7 479.3C1078.3 482.3 1082.2 485.3 1083.7 486.5" /><path class="l" d="M1083.7 486.5C1080.7 487.2 1071.1 489.7 1065.7 490.9C1060.3 492.1 1055.5 493.2 1051.4 493.6C1047.2 494.1 1043.3 494.2 1040.6 493.6C1037.9 493.0 1036.1 490.6 1035.2 490.0" /><path class="l" d="M1059.4 531.4C1060.2 529.6 1061.1 524.2 1063.9 520.6C1066.8 517.0 1072.3 513.7 1076.5 509.8C1080.7 505.9 1087.0 499.3 1089.1 497.2" /><path class="l" d="M1089.1 497.2C1090.0 499.9 1093.3 508.0 1094.5 513.4C1095.7 518.8 1096.0 526.9 1096.2 529.6" /><path class="l" d="M1096.2 529.6C1093.9 530.2 1086.4 532.3 1081.9 533.5C1077.4 534.7 1072.6 536.2 1069.3 536.7C1066.0 537.3 1063.8 537.6 1062.1 536.7C1060.5 535.8 1059.9 532.2 1059.4 531.4" /><path class="l" d="M1051.4 493.6L1063.9 520.6" /><path class="l" d="M1089.1 497.2L1063.9 520.6" /><path class="l" d="M1054.9 464.9L1024.4 479.3" /><path class="l" d="M1068.4 536.7L1068.4 549.3L1094.5 536.7" /><path class="l" d="M1058.5 561.9L1092.7 543.9" /><path class="l" d="M1092.7 543.9C1093.3 543.0 1095.7 540.9 1096.2 538.5C1096.8 536.1 1096.2 531.1 1096.2 529.6" /><path class="l" d="M966.9 517.9C965.7 519.5 961.3 524.3 959.8 527.8C958.3 531.2 957.7 534.3 958.0 538.5C958.3 542.7 959.5 548.1 961.6 552.9C963.6 557.7 967.2 563.4 970.5 567.3C973.8 571.2 977.4 573.9 981.3 576.2C985.2 578.6 990.6 581.0 993.9 581.6C997.2 582.2 999.9 580.1 1001.1 579.8" style="stroke-width:1.5"/><ellipse class="l" cx="980.9" cy="551.1" rx="28.6" ry="16.5" transform="rotate(60 980.9 551.1)" /><path class="l" d="M966.9 517.9L963.3 521.5L969.6 522.4" /><path class="l" d="M966.9 517.9L997.5 499.0" style="stroke-width:1.5"/><path class="l" d="M969.6 522.4L993.9 508.0" /><path class="l" d="M1001.1 579.8L1040.6 563.7" style="stroke-width:1.5"/><path class="l" d="M1002.0 575.4L1037.0 561.0" /><path class="l" d="M983.1 520.2L1009.1 505.3" /><path class="l" d="M984.9 524.5L1010.9 510.2" /><path class="l" d="M983.1 520.2C982.9 520.6 981.4 522.0 981.7 522.7C982.0 523.4 984.4 524.2 984.9 524.5" /><path class="l" d="M1009.1 505.3C1009.7 505.5 1012.1 505.9 1012.4 506.7C1012.7 507.6 1011.2 509.6 1010.9 510.2" /><path class="l" d="M993.9 531.4L1020.8 512.5" /><path class="l" d="M999.3 535.3L1023.5 523.8" /><path class="l" d="M993.9 531.4C993.6 531.8 991.5 533.2 992.4 533.9C993.3 534.5 998.1 535.1 999.3 535.3" /><path class="l" d="M1020.8 512.5C1021.4 512.7 1023.6 512.0 1024.1 513.9C1024.5 515.8 1023.6 522.2 1023.5 523.8" /><path class="l" d="M1002.9 545.7L1030.7 529.6" /><path class="l" d="M1007.3 549.7L1033.4 537.1" /><path class="l" d="M1002.9 545.7C1002.6 546.1 1000.7 547.6 1001.4 548.2C1002.2 548.9 1006.4 549.4 1007.3 549.7" /><path class="l" d="M1030.7 529.6C1031.2 529.8 1033.5 529.7 1033.9 531.0C1034.4 532.2 1033.5 536.1 1033.4 537.1" /><path class="l" d="M1007.3 561.9L1033.4 547.5" /><path class="l" d="M1010.0 567.6L1037.3 559.7" /><path class="l" d="M1007.3 561.9C1007.1 562.3 1005.5 563.4 1005.9 564.4C1006.4 565.4 1009.4 567.1 1010.0 567.6" /><path class="l" d="M1033.4 547.5C1033.9 547.8 1036.0 546.9 1036.6 549.0C1037.3 551.0 1037.2 557.9 1037.3 559.7" /><path class="l" d="M981.3 520.6L993.9 531.4L1001.1 543.9L1007.3 552.9L1006.5 563.7L1002.0 574.5" /></g><g id="bolt"><path class="w" d="M1302.1 421.2C1302.7 421.0 1304.4 420.1 1305.9 420.1C1307.4 420.2 1308.9 420.2 1310.8 421.5C1312.7 422.9 1315.2 425.5 1317.1 428.2C1318.9 430.8 1321.0 434.2 1322.0 437.3C1322.9 440.3 1323.5 444.0 1322.7 446.3C1321.9 448.7 1318.4 449.9 1317.1 451.2C1315.8 452.5 1315.3 453.6 1315.0 454.0" style="stroke-width:1.5"/><path class="l" d="M1303.1 423.3L1307.3 426.8L1311.5 423.3" style="stroke-width:1.5"/><path class="l" d="M1307.3 426.8L1316.4 442.8L1322.0 440.0" style="stroke-width:1.5"/><path class="l" d="M1316.4 442.8L1317.4 450.5" style="stroke-width:1.5"/><ellipse class="w" cx="1303.3" cy="439.8" rx="20.0" ry="11.5" transform="rotate(60 1303.3 439.8)" style="stroke-width:1.5"/><ellipse class="w" cx="1300.6" cy="441.3" rx="20.0" ry="11.5" transform="rotate(60 1300.6 441.3)" style="stroke-width:1.5"/><path class="wf" d="M1263.3 451.2L1298.9 431.7L1300.3 454.7L1272.4 470.1Z"/><path class="l" d="M1262.7 450.1L1263.9 449.7L1265.3 449.7L1266.8 450.1L1268.3 450.8L1269.8 451.9L1271.3 453.3L1272.6 454.9L1273.8 456.7L1274.8 458.6L1275.5 460.6L1276.0 462.6L1276.1 464.4L1276.0 466.1L1275.6 467.6L1274.9 468.8L1274.0 469.6"  style="stroke-width:1.5"/><path class="l" d="M1265.3 448.6L1266.5 448.2L1267.9 448.2L1269.4 448.6L1270.9 449.3L1272.4 450.4L1273.9 451.8L1275.3 453.4L1276.4 455.2L1277.4 457.1L1278.1 459.1L1278.6 461.0L1278.8 462.9L1278.7 464.6L1278.2 466.1L1277.6 467.3L1276.6 468.1"  style="stroke-width:1.5"/><path class="l" d="M1268.0 447.0L1269.2 446.7L1270.6 446.7L1272.0 447.0L1273.6 447.8L1275.1 448.9L1276.5 450.2L1277.9 451.9L1279.1 453.7L1280.0 455.6L1280.8 457.6L1281.2 459.5L1281.4 461.4L1281.3 463.1L1280.9 464.5L1280.2 465.7L1279.3 466.6"  style="stroke-width:1.5"/><path class="l" d="M1270.6 445.5L1271.8 445.1L1273.2 445.1L1274.7 445.5L1276.2 446.3L1277.7 447.3L1279.2 448.7L1280.5 450.3L1281.7 452.1L1282.7 454.1L1283.4 456.0L1283.9 458.0L1284.1 459.9L1283.9 461.5L1283.5 463.0L1282.8 464.2L1281.9 465.1"  style="stroke-width:1.5"/><path class="l" d="M1273.3 444.0L1274.5 443.6L1275.8 443.6L1277.3 444.0L1278.8 444.7L1280.4 445.8L1281.8 447.2L1283.2 448.8L1284.4 450.6L1285.3 452.5L1286.1 454.5L1286.5 456.5L1286.7 458.3L1286.6 460.0L1286.2 461.5L1285.5 462.7L1284.6 463.5"  style="stroke-width:1.5"/><path class="l" d="M1275.9 442.5L1277.1 442.1L1278.5 442.1L1280.0 442.5L1281.5 443.2L1283.0 444.3L1284.5 445.7L1285.8 447.3L1287.0 449.1L1288.0 451.0L1288.7 453.0L1289.2 454.9L1289.3 456.8L1289.2 458.5L1288.8 460.0L1288.1 461.2L1287.2 462.0"  style="stroke-width:1.5"/><path class="l" d="M1278.5 440.9L1279.8 440.6L1281.1 440.6L1282.6 440.9L1284.1 441.7L1285.7 442.8L1287.1 444.1L1288.5 445.8L1289.6 447.6L1290.6 449.5L1291.3 451.5L1291.8 453.4L1292.0 455.3L1291.9 457.0L1291.4 458.4L1290.8 459.6L1289.8 460.5"  style="stroke-width:1.5"/><path class="l" d="M1281.2 439.4L1282.4 439.0L1283.8 439.0L1285.2 439.4L1286.8 440.2L1288.3 441.2L1289.8 442.6L1291.1 444.2L1292.3 446.0L1293.3 448.0L1294.0 449.9L1294.4 451.9L1294.6 453.8L1294.5 455.4L1294.1 456.9L1293.4 458.1L1292.5 459.0"  style="stroke-width:1.5"/><path class="l" d="M1283.8 437.9L1285.0 437.5L1286.4 437.5L1287.9 437.9L1289.4 438.6L1290.9 439.7L1292.4 441.1L1293.7 442.7L1294.9 444.5L1295.9 446.4L1296.6 448.4L1297.1 450.4L1297.3 452.2L1297.1 453.9L1296.7 455.4L1296.0 456.6L1295.1 457.4"  style="stroke-width:1.5"/><path class="l" d="M1286.5 436.4L1287.7 436.0L1289.0 436.0L1290.5 436.4L1292.1 437.1L1293.6 438.2L1295.0 439.6L1296.4 441.2L1297.6 443.0L1298.5 444.9L1299.3 446.9L1299.7 448.8L1299.9 450.7L1299.8 452.4L1299.4 453.9L1298.7 455.1L1297.8 455.9"  style="stroke-width:1.5"/><path class="l" d="M1289.1 434.8L1290.3 434.5L1291.7 434.5L1293.2 434.8L1294.7 435.6L1296.2 436.7L1297.7 438.0L1299.0 439.7L1300.2 441.5L1301.2 443.4L1301.9 445.4L1302.4 447.3L1302.5 449.2L1302.4 450.9L1302.0 452.3L1301.3 453.5L1300.4 454.4"  style="stroke-width:1.5"/><path class="l" d="M1291.7 433.3L1293.0 432.9L1294.3 432.9L1295.8 433.3L1297.3 434.1L1298.9 435.1L1300.3 436.5L1301.7 438.1L1302.8 439.9L1303.8 441.9L1304.6 443.8L1305.0 445.8L1305.2 447.7L1305.1 449.3L1304.7 450.8L1304.0 452.0L1303.0 452.9"  style="stroke-width:1.5"/><ellipse class="w" cx="1265.5" cy="461.5" rx="11.3" ry="6.5" transform="rotate(60 1265.5 461.5)" style="stroke-width:1.5"/><path class="l" d="M1263.3 451.2L1297.5 432.4" style="stroke-width:1.5"/><path class="l" d="M1272.4 470.1L1297.5 455.4" style="stroke-width:1.5"/><path class="l" d="M1290.4 435.4L1291.2 433.6L1292.5 432.4L1294.1 431.8L1296.0 431.9L1298.0 432.6L1300.1 434.0L1302.1 435.9L1303.9 438.2L1305.3 440.8L1306.3 443.5L1306.8 446.1L1306.8 448.5L1306.2 450.6L1305.2 452.1L1303.8 453.0L1302.0 453.3" /><path class="l" d="M1260.5 465.2L1265.7 462.1" /></g>
<g id="cables"><path class="k" style="stroke-linecap:round;stroke-width:10.5" d="M982 551L955 566.7"/><path class="k" d="M957 565.5L948.5 570.5" style="stroke-width:10.5"/><path class="k" d="M927.5 583.0C921.8 586.4 904.2 596.7 893.0 603.5C881.8 610.3 869.3 618.5 860.0 623.9C850.7 629.3 844.9 632.8 837.4 636.1C829.9 639.4 822.0 642.6 814.8 643.9C807.5 645.2 800.9 645.2 793.9 643.9C786.9 642.6 779.1 639.7 773.0 636.1C766.9 632.5 762.0 627.4 757.4 622.2C752.8 617.0 748.7 610.9 745.2 604.8C741.7 598.7 739.7 592.1 736.5 585.7C733.3 579.3 730.1 571.7 726.1 566.5C722.1 561.3 717.4 557.0 712.2 554.3C707.0 551.6 700.6 550.8 694.8 550.5C689.0 550.2 684.1 550.4 677.4 552.6C670.7 554.8 663.5 559.1 654.8 563.9C646.1 568.7 634.2 575.8 625.2 581.3C616.2 586.8 608.0 592.5 601.0 597.0C594.0 601.5 588.8 604.6 583.0 608.5C577.2 612.4 570.1 616.6 566.0 620.5C561.9 624.4 560.4 627.8 558.3 631.6C556.2 635.4 554.6 639.3 553.3 643.2C552.0 647.1 551.0 649.5 550.5 654.8C550.0 660.1 550.1 668.0 550.0 675.0C549.9 682.0 550.0 693.3 550.0 697.0" style="stroke-width:10.8"/><path class="k" style="stroke-linecap:round;stroke-width:10.8" d="M550.3 727V729"/><path class="k" d="M550.6 728C550.8 740 550 748 545.5 753.5C540 759.5 530 765 522 769.5L510.5 776" style="stroke-width:10.8"/><path class="k" d="M891.5 543C888 552 889 559 896 566C902 571 913 572.5 925 570.5C940 568 953 562 965 555.5" style="stroke-width:3"/></g><g id="term"><path class="w" d="M893.5 533.0L893.5 545.2L906.1 553.0L938.7 534.8L938.7 525.2L926.5 518.3L895.2 531.3Z" style="stroke-width:1.5"/><path class="l" d="M893.5 533.0L906.1 540.9L906.1 553.0" style="stroke-width:1.5"/><path class="l" d="M906.1 540.9L938.7 525.7" style="stroke-width:1.5"/><path class="l" d="M911.7 523.9L923.9 532.2L938.7 525.2" /><path class="l" d="M917.0 526.1L927.4 532.6" /><path d="M894.8 536.1L894.8 544.3L904.8 550.4L904.8 541.7Z" fill="#000"/><path d="M897.0 539.1L900.0 540.9L897.1 542.6Z" fill="#fff"/><path d="M900.4 542.6L902.6 543.7L902.6 547.4L899.1 545.2Z" fill="#fff"/><path d="M935.7 529.6L938.3 528.3L938.3 532.6L935.7 533.5Z" fill="#000"/></g><g id="clamp"><path class="l" d="M565.5 611.9C565.5 607.6 564.9 591.6 565.5 586.4C566.1 581.2 565.9 583.1 569.0 580.6C572.1 578.1 580.0 572.8 584.1 571.3C588.1 569.9 589.9 570.7 593.3 571.9C596.8 573.0 602.4 575.5 604.9 578.3C607.4 581.1 607.8 587.0 608.4 588.7" style="stroke-width:1.6"/><path class="l" d="M568.4 609.6C568.4 606.0 567.8 592.5 568.4 588.1C569.0 583.7 569.1 585.4 571.9 583.1C574.7 580.8 581.7 575.6 585.2 574.2C588.7 572.8 589.9 573.7 592.8 574.8C595.7 575.8 600.4 577.9 602.6 580.6C604.8 583.3 605.5 589.3 606.1 591.0" style="stroke-width:1.6"/><path class="l" d="M581.2 586.4L581.2 600.3" style="stroke-width:1.6"/><path class="l" d="M573.6 578.3C575.7 579.4 582.3 582.5 586.4 585.2C590.4 587.9 594.9 591.2 598.0 594.5C601.1 597.8 603.8 603.2 604.9 604.9" style="stroke-width:1.6"/><path class="l" d="M578.3 575.4C580.4 576.6 587.1 580.1 591.0 582.9C594.9 585.7 598.7 588.9 601.4 592.2C604.2 595.5 606.3 600.9 607.2 602.6" style="stroke-width:1.6"/><path class="l" d="M580.6 575.9L588.7 573.0L594.5 575.4L586.4 578.8Z" /><path class="wf" d="M573.6 578.3L584.1 571.5L593.3 572.1L604.9 578.5L608.4 588.7L607.8 605.5L604.9 604.9L598.0 594.5L586.4 585.2Z"/><path class="l" d="M569.0 580.6C571.5 579.0 580.0 572.8 584.1 571.3C588.1 569.9 589.9 570.7 593.3 571.9C596.8 573.0 602.4 575.5 604.9 578.3C607.4 581.1 607.8 587.0 608.4 588.7" style="stroke-width:1.6"/><path class="l" d="M571.9 583.1C574.1 581.6 581.7 575.6 585.2 574.2C588.7 572.8 589.9 573.7 592.8 574.8C595.7 575.8 600.4 577.9 602.6 580.6C604.8 583.3 605.5 589.3 606.1 591.0" style="stroke-width:1.6"/><path class="l" d="M573.6 578.3C575.7 579.4 582.3 582.5 586.4 585.2C590.4 587.9 594.9 591.2 598.0 594.5C601.1 597.8 603.8 603.2 604.9 604.9" style="stroke-width:1.6"/><path class="l" d="M578.3 575.4C580.4 576.6 587.1 580.1 591.0 582.9C594.9 585.7 598.7 588.9 601.4 592.2C604.2 595.5 606.3 600.9 607.2 602.6" style="stroke-width:1.6"/><path class="l" d="M580.6 575.9L588.7 573.0L594.5 575.4L586.4 578.8Z" /><path class="l" d="M565.5 611.9C567.1 614.2 569.0 621.0 574.8 625.8C580.6 630.6 594.8 638.2 600.3 640.9C605.8 643.6 606.6 641.8 607.8 642.0" style="stroke-width:1.6"/><path class="l" d="M573.6 623.5C575.7 624.6 581.9 627.9 586.4 630.4C590.8 632.9 596.7 637.1 600.3 638.6C603.9 640.0 606.6 639.0 607.8 639.1" style="stroke-width:1.6"/><path class="l" d="M599.1 607.2L599.1 623.5" style="stroke-width:1.6"/><path class="l" d="M585.2 614.2L600.3 623.5L608.4 628.1" style="stroke-width:1.6"/><path class="l" d="M600.3 606.1L609.6 610.1L632.8 602.6L651.3 599.1L655.9 598.6L656.5 621.2L651.3 621.2" style="stroke-width:1.6"/><path class="l" d="M616.5 609.6L616.5 632.8L623.5 629.3L623.5 620.0" style="stroke-width:1.6"/><path class="l" d="M609.6 610.1L616.5 609.6L630.4 603.2" style="stroke-width:1.6"/><path class="l" d="M651.3 599.1L651.3 603.2" /><path class="w" d="M607.8 609.6L607.8 563.2C608.4 555.1 614.2 551.6 617.7 551.6C622.3 551.6 624.6 556.2 624.6 563.2L624.6 604.9L615.4 609.6Z" style="stroke-width:1.6"/><path class="l" d="M610.4 609.6C610.4 602.0 609.9 573.0 610.4 564.3C610.8 555.7 611.8 559.0 613.0 557.4C614.3 555.7 616.9 555.0 617.7 554.5" /><path class="l" d="M621.7 578.3L621.7 603.2" /><path class="l" d="M611.7 567.8L613.7 567.2" style="stroke-width:1.6"/><path class="l" d="M611.7 570.7L613.7 570.1" style="stroke-width:1.6"/><path class="l" d="M611.7 573.6L613.7 573.0" style="stroke-width:1.6"/><path class="l" d="M611.7 576.5L613.7 575.9" style="stroke-width:1.6"/><path class="l" d="M621.2 562.0L623.5 561.4" style="stroke-width:1.6"/><path class="l" d="M621.2 564.9L623.5 564.3" style="stroke-width:1.6"/><path class="l" d="M621.2 567.8L623.5 567.2" style="stroke-width:1.6"/><path class="l" d="M621.2 570.7L623.5 570.1" style="stroke-width:1.6"/><path class="l" d="M612.5 582.9L621.2 578.8" style="stroke-width:1.6"/><path class="l" d="M612.5 586.4L621.2 582.3" style="stroke-width:1.6"/><path class="l" d="M612.5 589.9L621.2 585.8" style="stroke-width:1.6"/><path class="l" d="M612.5 593.3L621.2 589.3" style="stroke-width:1.6"/><path class="l" d="M612.5 596.8L621.2 592.8" style="stroke-width:1.6"/><path class="l" d="M610.7 580.0L622.9 574.8" style="stroke-width:1.6"/><path class="l" d="M615.4 604.9L615.4 601.4L621.2 599.1L621.2 604.9" style="stroke-width:1.6"/><path class="w" d="M607.8 625.8L607.8 644.9L610.1 646.7L613.6 644.3L613.6 625.8L610.7 624.1Z" style="stroke-width:1.6"/><path class="l" d="M610.7 626.4L610.7 646.1" /><path class="l" d="M609.6 623.5C609.7 621.9 609.7 616.3 610.1 614.2C610.6 612.1 611.7 611.2 612.5 610.7C613.2 610.2 614.5 610.3 614.8 611.3C615.1 612.3 614.6 614.5 614.2 616.5C613.8 618.6 612.8 622.3 612.5 623.5" style="stroke-width:1.6"/><path class="w" d="M623.5 614.2L628.1 610.7L644.3 616.5L651.3 625.8C653.0 631.6 647.8 636.8 642.0 636.2L630.4 632.8L628.1 627.0L621.2 625.8Z" style="stroke-width:1.6"/><path d="M639.7 617.1L644.9 615.9L649.6 626.4L644.3 624.6Z" fill="#000"/><path class="l" d="M625.8 616.5L640.9 623.5L649.0 626.4" /><path class="l" d="M624.6 620.0L638.6 625.8" /><path class="l" d="M628.1 627.0L639.7 629.3L649.0 628.1" style="stroke-width:1.6"/></g><g id="tie"><path class="l" d="M495.7 682.6C495.6 680.5 494.2 674.1 495.1 669.9C495.9 665.6 497.0 660.9 500.9 657.1C504.7 653.3 512.1 649.4 518.3 647.2C524.4 645.1 530.8 644.3 538.0 644.3C545.1 644.3 554.4 645.1 561.2 647.2C567.9 649.4 574.4 653.3 578.6 657.1C582.7 660.9 585.0 666.0 586.1 669.9C587.1 673.7 585.1 678.6 584.9 680.3" style="stroke-width:1.5"/><path class="l" d="M497.4 671.6C498.4 669.6 499.5 663.1 503.2 659.4C506.9 655.8 513.6 651.9 519.4 649.8C525.2 647.7 531.2 646.9 538.0 646.9C544.7 646.9 553.5 647.8 560.0 649.8C566.5 651.8 572.9 655.4 576.8 658.8C580.7 662.3 582.3 668.5 583.4 670.4" style="stroke-width:1.5"/><path class="l" d="M498.6 674.5C500.3 672.6 504.3 666.0 509.0 662.9C513.6 659.8 520.4 657.3 526.4 655.9C532.4 654.6 539.1 654.6 544.9 654.8C550.7 655.0 556.1 655.6 561.2 657.1C566.2 658.6 571.5 661.5 575.1 664.1C578.6 666.6 581.4 670.8 582.6 672.2" style="stroke-width:1.5"/></g><path class="k" d="M558.3 631.6C554 639 550.5 648 550 658V697" style="stroke-width:10.5"/><g id="tie2"><path class="w" d="M497.4 672.2C498.6 680.3 506.7 686.1 518.3 691.9L536.8 701.2L535.7 711.6C514.8 700.0 498.6 691.9 494.5 682.6Z" style="stroke-width:1.5"/><path class="w" d="M583.4 671.0C582.6 678.0 576.2 683.8 568.1 689.6L554.2 697.1L554.2 705.8C570.4 698.8 583.2 688.4 587.2 680.3Z" style="stroke-width:1.5"/><path class="l" d="M499.5 683.8L499.7 678.3" /><path class="l" d="M502.5 686.0L502.7 680.5" /><path class="l" d="M505.5 688.2L505.7 682.7" /><path class="l" d="M508.4 690.3L508.7 684.9" /><path class="l" d="M511.4 692.5L511.7 687.1" /><path class="l" d="M514.4 694.7L514.7 689.3" /><path class="l" d="M517.4 696.9L517.6 691.5" /><path class="l" d="M520.4 699.1L520.6 693.6" /><path class="l" d="M523.4 701.3L523.6 695.8" /><path class="l" d="M526.4 703.5L526.6 698.0" /><path class="l" d="M529.4 705.6L529.6 700.2" /><path class="l" d="M532.3 707.8L532.6 702.4" /><path class="l" d="M535.3 710.0L535.6 704.6" /><path class="l" d="M582.4 681.8L582.1 676.7" /><path class="l" d="M579.1 684.5L578.9 679.4" /><path class="l" d="M575.8 687.2L575.6 682.1" /><path class="l" d="M572.5 689.9L572.3 684.8" /><path class="l" d="M569.2 692.6L569.0 687.5" /><path class="l" d="M566.0 695.3L565.7 690.2" /><path class="l" d="M562.7 698.0L562.4 692.9" /><path class="l" d="M559.4 700.7L559.1 695.6" /><path class="l" d="M556.1 703.4L555.9 698.3" /><path class="w" d="M536.8 701.2L544.9 697.1L554.2 700.0L553.6 708.1L543.8 718.6L536.2 711.6Z" style="stroke-width:1.5"/><path class="l" d="M536.8 701.2L546.1 705.8L554.2 700.0" style="stroke-width:1.5"/><path class="l" d="M546.1 705.8L543.8 718.6" style="stroke-width:1.5"/><path class="w" d="M547.2 709.3L571.6 723.2L572.2 726.1L565.8 728.1L546.1 718.6Z" style="stroke-width:1.5"/><path class="l" d="M549.6 711.6L569.3 724.3" /><circle class="l" cx="562.9" cy="722.6" r="1.3"/><path d="M549.6 707.5L556.5 707.0L555.4 711.6Z" fill="#000"/></g><g id="plug"><path class="l" d="M472.5 774.3L508.3 771.9" /><path class="l" d="M481.2 779.3L508.3 775.0" /><path class="l" d="M492.2 784.2L509.5 777.4" /><path class="l" d="M498.4 790.4L510.7 779.3" /><path class="l" d="M508.3 791.6L512.0 779.9" /><path class="l" d="M476.2 777.4L507.0 773.7" /><path class="l" d="M488.5 781.7L508.9 776.2" /><path class="l" d="M512.0 779.3L512.0 799.0L507.0 806.4" style="stroke-width:1.6"/><path class="l" d="M471.3 773.7L508.3 772.5" style="stroke-width:2"/><path class="l" d="M449.1 780.5C451.6 779.1 460.4 773.1 463.9 771.9C467.4 770.7 468.6 772.3 470.1 773.1C471.5 773.9 474.4 774.8 472.5 776.8C470.7 778.9 461.2 784.0 459.0 785.4" style="stroke-width:1.6"/><path class="l" d="M462.7 786.7C464.9 785.4 473.1 780.5 476.2 779.3C479.3 778.0 479.9 778.5 481.2 779.3C482.4 780.1 484.9 782.1 483.6 784.2C482.4 786.3 475.4 790.4 473.8 791.6" style="stroke-width:1.6"/><path class="l" d="M475.0 792.8C477.0 791.7 484.4 787.3 487.3 786.0C490.2 784.8 491.0 784.7 492.2 785.4C493.5 786.2 496.1 788.1 494.7 790.4C493.3 792.6 485.5 797.5 483.6 799.0" style="stroke-width:1.6"/><path class="l" d="M483.6 799.0C486.5 797.5 497.2 791.0 500.9 790.4C504.6 789.7 504.8 793.2 505.8 795.3C506.8 797.3 507.2 800.8 507.0 802.7C506.8 804.5 507.6 804.5 504.6 806.4C501.5 808.2 491.2 812.5 488.5 813.8" style="stroke-width:1.6"/><path class="l" d="M489.8 815.0C492.0 813.8 500.5 808.2 503.3 807.6C506.2 807.0 506.5 809.9 507.0 811.3C507.5 812.7 509.3 813.9 506.4 816.2C503.5 818.6 492.5 823.9 489.8 825.5" style="stroke-width:1.6"/><path class="l" d="M504.6 806.4L508.3 803.9L512.0 796.5" /><path class="w" d="M408.5 795.9L439.3 778.0C441.7 776.8 445.4 777.4 449.1 780.5L481.2 799.0C486.1 802.7 487.9 806.4 488.5 811.3L488.5 831.0C488.5 834.1 487.3 834.7 484.9 835.9L457.1 852.0L451.6 828.5Z" style="stroke-width:1.6"/><path class="l" d="M449.1 780.5L459.0 789.1L465.1 795.3" style="stroke-width:2"/><path class="w" d="M403.6 803.9C403.3 798.4 406.0 795.3 410.9 797.1L447.9 816.2C454.1 819.9 457.1 824.9 457.1 832.2L456.5 848.3C456.5 854.4 452.8 855.6 447.9 853.2L418.3 838.4C408.5 832.2 403.8 823.6 403.6 816.2Z" style="stroke-width:1.6"/><path class="l" d="M407.2 806.4C407.0 802.1 409.1 800.2 412.8 801.7L446.0 818.9C451.6 822.4 453.8 826.1 453.8 832.2L453.4 845.8C453.4 850.1 451.0 851.3 447.3 849.2L420.2 835.3C411.6 830.4 407.5 823.6 407.2 816.2Z" style="stroke-width:1.6"/><path class="l" d="M412.2 796.5L447.9 816.2" /><path class="l" d="M414.6 802.7L452.8 832.2" /><path class="l" d="M425.7 808.8C426.5 810.5 428.0 816.0 430.7 818.7C433.3 821.4 439.9 823.8 441.7 824.9" /><path class="l" d="M436.2 790.4L436.2 797.8L440.5 799.0L441.1 794.1L444.2 795.9L446.7 798.4L446.7 803.9L449.1 805.1L465.1 795.3" style="stroke-width:1.6"/><path class="l" d="M436.2 790.4L451.6 781.7" style="stroke-width:1.6"/><path class="l" d="M441.1 794.1L456.5 785.4" /><path class="l" d="M446.7 798.4L461.4 790.4" /><path class="l" d="M390 854.3L444.2 823.6" /><path class="l" d="M457.1 820.5L483.0 805.8" /></g><g id="bl"><path class="l" d="M295.8 810.0L297.9 811.8L305.6 825.0L307.0 828.5L307.0 843.9L303.5 846.7L299.3 847.1" style="stroke-width:1.5"/><path class="l" d="M295.1 813.2L301.4 827.1L303.1 831.3L303.1 843.9L300.7 846.0" style="stroke-width:1.5"/><path class="l" d="M302.1 828.5L302.1 843.9" style="stroke-width:2.4"/><path class="l" d="M271.3 809.0L282.5 802.3L295.8 810.0L294.4 812.5L285.3 817.4Z" style="stroke-width:1.5"/><path class="l" d="M285.3 817.4L286.7 827.8L295.1 823.7L294.4 812.5" style="stroke-width:1.5"/><path class="l" d="M269.2 812.5L268.5 816.0L286.7 827.8" style="stroke-width:1.5"/><path class="l" d="M268.5 816.0L261.6 820.9L257.4 822.3L256.7 823.0L256.7 832.7" style="stroke-width:1.5"/><path class="l" d="M261.6 820.9L285.3 835.5L286.7 836.9L286.7 853.0L283.9 854.7L281.1 854.4L276.2 850.9" style="stroke-width:1.5"/><path class="l" d="M286.7 836.9L300.7 828.5L301.4 843.9" style="stroke-width:1.5"/><path class="l" d="M286.7 853.0L300.7 843.9L302.8 842.5" style="stroke-width:1.5"/><path class="l" d="M295.1 823.7L300.7 828.5" style="stroke-width:1.5"/><path class="w" d="M249.7 838.3L264.4 829.9C266.4 829.2 269.9 831.3 271.3 835.2L256.7 844.3C256.0 848.1 253.9 850.9 251.4 850.2C246.9 848.1 244.8 840.4 249.7 838.3Z" style="stroke-width:1.5"/><path class="l" d="M249.7 838.3C250.3 838.8 252.5 839.8 253.5 841.1C254.6 842.4 255.6 845.2 256.0 846.0" style="stroke-width:1.5"/><path class="w" d="M257.4 843.9L272.7 836.2C276.9 834.8 280.4 838.3 281.5 843.2L281.5 846.4L265.0 855.8C263.0 857.5 260.2 856.8 258.8 854.4C256.3 850.9 255.6 846.0 257.4 843.9Z" style="stroke-width:1.5"/><path class="l" d="M258.1 843.9C258.9 844.4 261.7 845.5 263.0 846.7C264.2 847.9 265.0 849.4 265.4 850.9C265.7 852.4 265.1 854.7 265.0 855.4" style="stroke-width:1.5"/><ellipse class="l" cx="251.2" cy="845.5" rx="2.2" ry="1.3" transform="rotate(-40 251.2 845.5)" /><ellipse class="l" cx="261.2" cy="850.6" rx="2.2" ry="1.3" transform="rotate(-40 261.2 850.6)" /><path class="l" d="M250.0 844.8C245.4 849.0 231.2 861.2 222.2 870.0C213.2 878.8 201.6 891.4 196.1 897.8C190.6 904.2 191.0 903.0 189.1 908.3C187.2 913.5 185.9 919.9 184.8 929.1C183.6 938.4 182.7 956.8 182.2 963.9C181.7 971.0 181.9 970.4 181.8 971.7" /><path class="l" d="M251.7 846.5C247.2 850.6 233.5 862.3 224.8 870.9C216.1 879.4 205.1 891.3 199.6 897.8C194.1 904.3 193.6 904.8 191.7 910.0C189.9 915.2 189.3 920.1 188.3 929.1C187.2 938.1 186.1 956.8 185.7 963.9C185.2 971.0 185.4 970.4 185.3 971.7" /><path class="l" d="M259.6 850.9C256.2 852.3 245.8 856.1 239.6 859.6C233.3 863.0 229.1 865.5 222.2 871.7C215.2 878.0 201.9 892.8 197.8 897.0" /><path class="h" d="M261.3 852.3C258.3 853.8 248.7 858.1 243.0 861.3C237.4 864.6 230.0 870.0 227.4 871.7" /><path class="p" d="M296.1 905.7L208 947.7C201 951.5 197 955 193.5 960C190 964 187.5 966.5 185.5 968.5" /><path class="p" d="M300.4 915.8L212.3 958.6C206.5 961.5 202 965.5 198.6 970.1" /><path class="l" d="M296.1 905.7C296.7 906.4 298.8 908.4 299.6 910.0C300.3 911.6 300.3 914.3 300.4 915.2" /><path class="l" d="M300.4 910.0L321.3 871.7" style="stroke-width:1"/><path class="l" d="M303.0 911.7L321.3 873.1" style="stroke-width:0.9"/><path class="l" d="M300.4 910.0L333.5 878.7" style="stroke-width:1"/><path class="l" d="M300.4 910.0L345.7 884.8" style="stroke-width:1"/><path class="l" d="M303.0 911.7L345.7 886.2" style="stroke-width:0.9"/><path class="l" d="M300.4 910.0L357.0 889.1" style="stroke-width:1"/><path class="l" d="M303.0 911.7L357.0 890.5" style="stroke-width:0.9"/><path class="l" d="M300.4 910.0L354.3 894.3" style="stroke-width:1"/><path class="l" d="M303.0 911.7L354.3 895.7" style="stroke-width:0.9"/><path class="l" d="M300.4 910.0L343.9 904.8" style="stroke-width:1"/><path class="l" d="M300.4 910.0L357.0 904.8" style="stroke-width:1"/><path class="l" d="M303.0 911.7L357.0 906.2" style="stroke-width:0.9"/><path class="l" d="M300.4 910.0L350.9 910.0" style="stroke-width:1"/><path class="l" d="M305.7 866.5C305.7 859.6 309.1 856.1 316.1 856.1L356.1 880.4C360.4 883.9 362.2 887.4 362.2 892.6L363.0 915.2C363.0 919.6 360.4 921.3 355.2 921.3L310.9 896.1C307.4 892.6 305.7 889.1 305.7 883.9Z"/><path class="l" d="M310.9 869.1C310.5 863.9 312.6 861.3 317.0 862.7L352.6 884.8C357.0 887.4 358.7 890.0 358.7 894.3L358.7 912.6C358.7 915.6 357.0 916.6 354.0 915.6L315.2 893.5C312.3 891.7 310.9 889.1 310.9 884.8Z"/><path class="l" d="M321.3 866.5L321.3 896.1" /><path class="l" d="M334.3 873.5L334.3 903.9" /><path class="l" d="M346.5 881.3L346.5 910.9" /><path class="l" d="M310.9 877.0L358.7 903.9" /><path class="l" d="M316.1 856.1L327.4 848.3L332.6 833.5L351.7 823.0" /><path class="p" d="M351.7 823.0L378.7 839.6" /><path class="l" d="M332.6 833.5L359.6 849.1L378.7 839.6" /><path class="l" d="M359.6 849.1L363.0 870.0L383.9 861.3" /><path class="l" d="M327.4 848.3L363.0 870.0" /><path class="l" d="M362.2 890.9L389.1 875.2" /><path class="l" d="M357.8 920.4L385.7 908.3" /><path class="l" d="M378.7 839.6C380.4 842.9 386.2 853.9 389.1 859.6C392.0 865.2 394.6 867.7 396.1 873.5C397.5 879.3 398.1 889.4 397.8 894.3C397.5 899.3 396.4 900.7 394.3 903.0C392.3 905.4 387.1 907.4 385.7 908.3" /><path class="l" d="M377.0 842.2C378.4 845.1 383.2 854.1 385.7 859.6C388.1 865.1 390.4 869.4 391.7 875.2C393.0 881.0 393.6 889.7 393.5 894.3C393.3 899.0 392.3 901.2 390.9 903.0C389.4 904.9 385.8 905.2 384.8 905.7" /></g>
<g id="labels" style="filter:grayscale(1)">
<text x="427.8" y="205" font-size="26" textLength="68.5" lengthAdjust="spacingAndGlyphs">Fig.No.</text>
<text x="427.5" y="236" font-size="26" textLength="84" lengthAdjust="spacingAndGlyphs">K108XX</text>
<text x="122.3" y="527" font-size="26" textLength="70.5" lengthAdjust="spacingAndGlyphs">Fig.No.</text>
<text x="122.5" y="557.5" font-size="26" textLength="81" lengthAdjust="spacingAndGlyphs">J745XX</text>
<text x="441" y="908.8" font-size="26" textLength="69" lengthAdjust="spacingAndGlyphs">Fig.No.</text>
<text x="440" y="939.5" font-size="26" textLength="84.5" lengthAdjust="spacingAndGlyphs">B710XX</text>
<text x="864.6" y="348.5" font-size="27.5" textLength="47.6" lengthAdjust="spacingAndGlyphs">010</text>
<text x="819.6" y="394.8" font-size="27.5" textLength="47.6" lengthAdjust="spacingAndGlyphs">020</text>
<text x="1267.7" y="355.5" font-size="27.5" textLength="47.6" lengthAdjust="spacingAndGlyphs">040</text>
<text x="369.7" y="667.5" font-size="27.5" textLength="47.6" lengthAdjust="spacingAndGlyphs">030</text>
<text x="1109.3" y="921.8" font-size="15" textLength="105.5" lengthAdjust="spacing">3J230-254-10</text>
</g>
<g id="leaders" class="l">
<path d="M423.9 243.7H515.4L543 323"/>
<path d="M119 564H210L252 531"/>
<path d="M527.5 946.7H436L395.6 905"/>
</g>
</svg>
</body></html>
